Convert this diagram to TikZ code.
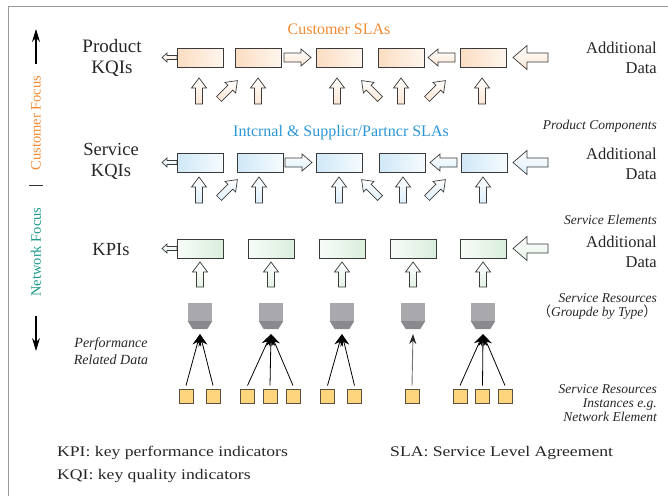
\documentclass[tikz,border=0pt]{standalone}
\usepackage{fontspec}
\setmainfont{Liberation Serif}
\newfontfamily\legendfont[FakeStretch=1.2]{Liberation Serif}
\newfontfamily\cjkfont{Noto Sans CJK SC}
\usetikzlibrary{arrows.meta,calc}
\definecolor{frameg}{HTML}{9A9A9A}
\definecolor{boxline}{HTML}{3A3A3A}
\definecolor{peach}{HTML}{FBDDC2}
\definecolor{peachl}{HTML}{FFF6EE}
\definecolor{peacha}{HTML}{FCE6D3}
\definecolor{bluef}{HTML}{CFE8F7}
\definecolor{bluel}{HTML}{F6FBFE}
\definecolor{bluea}{HTML}{DDEFFA}
\definecolor{greenf}{HTML}{D9EEDD}
\definecolor{greenl}{HTML}{F8FCF8}
\definecolor{greena}{HTML}{E3F2E6}
\definecolor{greyl}{HTML}{A9A9AD}
\definecolor{greyd}{HTML}{8A8A8E}
\definecolor{sqfill}{HTML}{FDD57C}
\definecolor{sqline}{HTML}{5A5040}
\definecolor{orangeT}{HTML}{F28A32}
\definecolor{blueT}{HTML}{2A96D6}
\definecolor{tealT}{HTML}{1A9A8C}
\newcommand{\fs}[2]{\fontsize{#1}{#2}\selectfont}
% block arrow: style, tail x, tail y, angle, length, shaft, head width, head length
\newcommand{\barr}[8]{%
  \begin{scope}[shift={(#2,#3)},rotate=#4]
    \path[#1] (0,{-(#6)/2}) -- ({#5-#8},{-(#6)/2}) -- ({#5-#8},{-(#7)/2}) -- (#5,0)
      -- ({#5-#8},{(#7)/2}) -- ({#5-#8},{(#6)/2}) -- (0,{(#6)/2}) -- cycle;
  \end{scope}}
\newcommand{\upA}[3]{\barr{#1}{#2}{#3}{90}{26}{7}{15}{10}}
\newcommand{\drA}[3]{\barr{#1}{#2}{#3}{45}{26}{7}{15}{10}}
\newcommand{\dlA}[3]{\barr{#1}{#2}{#3}{135}{26}{7}{15}{10}}
\newcommand{\smallL}[3]{\barr{#1}{#2}{#3}{180}{15}{4}{9}{5}}
\newcommand{\midA}[4]{\barr{#1}{#2}{#3}{#4}{27}{9}{17}{10}}
\newcommand{\bigL}[3]{\barr{#1}{#2}{#3}{180}{35}{9}{24}{14}}
\begin{document}
\begin{tikzpicture}[x=1pt,y=-1pt,
  box/.style={draw=boxline, line width=0.8pt, minimum width=46pt, minimum height=19pt, inner sep=0pt},
  pbox/.style={box, left color=peach, right color=peachl},
  bbox/.style={box, left color=bluef, right color=bluel},
  gbox/.style={box, left color=greenl, right color=greenf},
  barrow/.style={draw=boxline, line width=0.7pt, line join=miter},
  ph/.style={barrow, top color=white, bottom color=peacha},
  pv/.style={barrow, top color=white, bottom color=peacha},
  bh/.style={barrow, top color=white, bottom color=bluea},
  bv/.style={barrow, top color=white, bottom color=bluea},
  gh/.style={barrow, top color=white, bottom color=greena},
  gv/.style={barrow, top color=white, bottom color=greena},
  res/.style={fill=greyl, minimum width=24pt, minimum height=18pt, inner sep=0pt},
  sq/.style={draw=sqline, fill=sqfill, line width=0.9pt, minimum size=14pt, inner sep=0pt},
  conn/.style={line width=0.8pt, -{Stealth[length=12pt,width=9pt]}},
  conng/.style={draw=black!55, line width=0.9pt, -{Stealth[length=10pt,width=7pt,color=black!85]}},
  lbl/.style={align=center, inner sep=0pt, text=black!85},
  rlbl/.style={align=right, anchor=east, inner sep=0pt, text=black!85},
  ilbl/.style={align=right, anchor=east, inner sep=0pt, text=black!85, font=\itshape\fs{13.5}{14}},
]
\useasboundingbox (0,0) rectangle (668,496);
% frame
\draw[frameg, line width=1pt] (668,6) -- (8,6) -- (8,496);

% side focus indicators
\coordinate (fa1) at (36,64);
\coordinate (fa2) at (36,29);
\draw[line width=1.1pt, -{Stealth[length=13pt,width=8pt]}] (fa1) -- (fa2);
\node[rotate=90, text=orangeT, font=\fs{14.5}{16}] (cf) at (36,123) {Customer Focus};
\coordinate (d1) at (29,185);
\coordinate (d2) at (43,185);
\draw[line width=0.9pt, black!80] (d1) -- (d2);
\node[rotate=90, text=tealT, font=\fs{14.5}{16}] (nf) at (36,252) {Network Focus};
\coordinate (fb1) at (36,316);
\coordinate (fb2) at (36,351);
\draw[line width=1.1pt, -{Stealth[length=13pt,width=8pt]}] (fb1) -- (fb2);

% titles
\node[text=orangeT, font=\fs{16}{18}] (cslas) at (339,29) {Customer SLAs};
\node[text=blueT, font=\fs{16}{18}] (islas) at (341,133) {Intcrnal \& Supplicr/Partncr SLAs};

% left labels
\node[lbl, font=\fs{19}{21}] (lk1) at (112,58) {Product\\KQIs};
\node[lbl, font=\fs{18.5}{21}] (lk2) at (111,161) {Service\\KQIs};
\node[lbl, font=\fs{18.5}{21}] (lk3) at (111,250) {KPIs};
\node[lbl, font=\itshape\fs{14}{16.5}] (prd) at (111,351) {Performance\\Related Data};

% right labels
\node[rlbl, font=\fs{16.5}{20}] (ad1) at (657,58) {Additional\\Data};
\node[rlbl, font=\fs{16.5}{19.5}] (ad2) at (657,164) {Additional\\Data};
\node[rlbl, font=\fs{16.5}{19.5}] (ad3) at (657,252) {Additional\\Data};
\node[ilbl] (pc) at (657,126) {Product Components};
\node[ilbl] (se) at (657,220) {Service Elements};
\node[ilbl] (sr) at (657,306) {Service Resources\\{\cjkfont （}Groupde by Type{\cjkfont ）}};
\node[ilbl] (sri) at (657,403) {Service Resources\\Instances e.g.\\Network Element};

% legend
\node[anchor=west, inner sep=0pt, text=black!85, align=left, font=\legendfont\fs{14.7}{23}] (leg1) at (57,464.5) {KPI: key performance indicators\\KQI: key quality indicators};
\node[anchor=west, inner sep=0pt, text=black!85, font=\legendfont\fs{14.7}{23}] (leg2) at (390,453) {SLA: Service Level Agreement};

% ---------- Row 1: Product KQIs ----------
\smallL{ph}{177}{57.5}
\midA{ph}{284}{57.5}{0}
\midA{ph}{455}{57.5}{180}
\bigL{ph}{548}{57.5}
\node[pbox] (p1) at (200,57.5) {};
\node[pbox] (p2) at (258.5,57.5) {};
\node[pbox] (p3) at (339,57.5) {};
\node[pbox] (p4) at (401.5,57.5) {};
\node[pbox] (p5) at (483,57.5) {};
\upA{pv}{199}{104}
\drA{pv}{219}{99}
\upA{pv}{258}{104}
\upA{pv}{337}{104}
\dlA{pv}{380}{99}
\upA{pv}{401}{104}
\drA{pv}{427}{99}
\upA{pv}{482}{104}

% ---------- Row 2: Service KQIs ----------
\smallL{bh}{177}{162.5}
\midA{bh}{285}{162.5}{0}
\midA{bh}{457}{162.5}{180}
\bigL{bh}{548}{162.5}
\node[bbox] (b1) at (200,162.5) {};
\node[bbox] (b2) at (260,162.5) {};
\node[bbox] (b3) at (339,162.5) {};
\node[bbox] (b4) at (402,162.5) {};
\node[bbox] (b5) at (484,162.5) {};
\upA{bv}{199}{203}
\drA{bv}{219}{198}
\upA{bv}{259}{203}
\upA{bv}{339}{203}
\dlA{bv}{380}{198}
\upA{bv}{403}{203}
\drA{bv}{427}{198}
\upA{bv}{483}{203}

% ---------- Row 3: KPIs ----------
\smallL{gh}{177}{248.5}
\bigL{gh}{548}{248.5}
\node[gbox] (g1) at (200,248.5) {};
\node[gbox] (g2) at (271,248.5) {};
\node[gbox] (g3) at (342,248.5) {};
\node[gbox] (g4) at (413,248.5) {};
\node[gbox] (g5) at (483,248.5) {};
\barr{gv}{200}{287}{90}{25}{7}{15}{10}
\barr{gv}{271}{287}{90}{25}{7}{15}{10}
\barr{gv}{342}{287}{90}{25}{7}{15}{10}
\barr{gv}{413}{287}{90}{25}{7}{15}{10}
\barr{gv}{483}{287}{90}{25}{7}{15}{10}

% ---------- Service resources (grouped) ----------
\foreach \i/\cx in {1/200,2/271,3/342,4/413,5/483}{
  \node[res] (r\i) at (\cx,312) {};
  \fill[greyd] (r\i.south west) -- (r\i.south east) -- ++(-5,8) -- ($(r\i.south west)+(5,8)$) -- cycle;
  \coordinate (t\i) at (\cx,334);
}

% ---------- Resource instances ----------
\foreach \n/\cx in {a/186,b/213,c/247.5,d/270,e/293,f/327.5,g/354.5,h/412,i/460,j/482.5,k/505}{
  \node[sq] (s\n) at (\cx,396) {};
}
\foreach \n in {a,b}{\draw[conn] ([yshift=3pt]s\n.north) -- (t1);}
\foreach \n in {c,d,e}{\draw[conn] ([yshift=3pt]s\n.north) -- (t2);}
\foreach \n in {f,g}{\draw[conn] ([yshift=3pt]s\n.north) -- (t3);}
\draw[conng] ([yshift=3pt]sh.north) -- (t4);
\foreach \n in {i,j,k}{\draw[conn] ([yshift=3pt]s\n.north) -- (t5);}
\end{tikzpicture}
\end{document}
